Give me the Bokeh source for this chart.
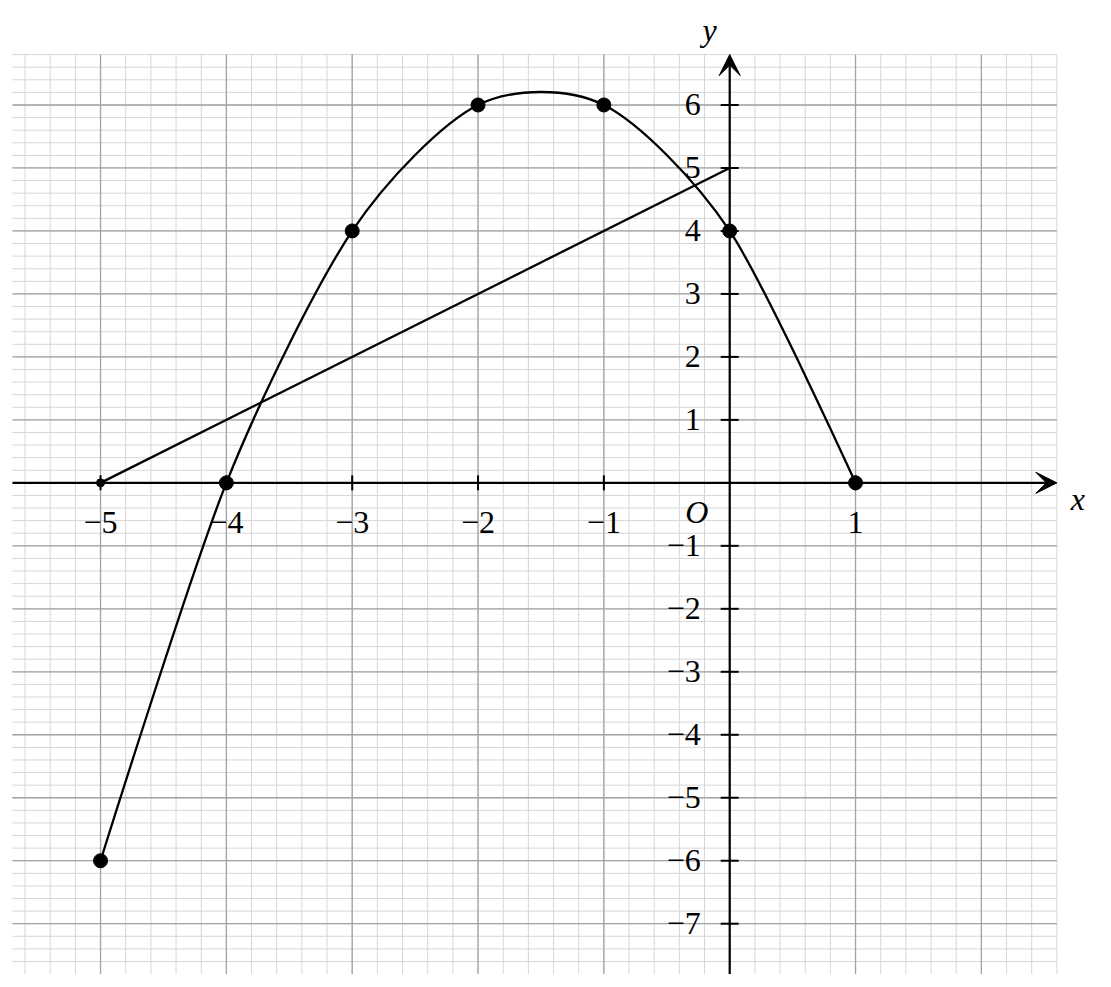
import numpy as np
from bokeh.plotting import figure
from bokeh.models import Range1d, Arrow, VeeHead
from bokeh.core.properties import value
from bokeh.embed import file_html
from bokeh.resources import INLINE

# ---- data ----
curve_x = [-5, -4, -3, -2, -1, 0, 1]
curve_y = [-6, 0, 4, 6, 6, 4, 0]
line_x = [-5, 0]
line_y = [0, 5]
x_ticks = [-5, -4, -3, -2, -1, 1]
x_tick_labels = ["−5", "−4", "−3", "−2", "−1", "1"]
y_ticks = [-7, -6, -5, -4, -3, -2, -1, 1, 2, 3, 4, 5, 6]
y_tick_labels = ["−7", "−6", "−5", "−4", "−3", "−2", "−1", "1", "2", "3", "4", "5", "6"]
grid_x = (-5.7, 2.6)
grid_y = (-7.8, 6.8)

FONT = value("Liberation Serif")
FS = "32px"
W, H = 1095, 979

p = figure(width=W, height=H, x_range=Range1d(-5.795, 2.907), y_range=Range1d(-7.886, 7.659),
           output_backend="svg", toolbar_location=None, min_border=0,
           x_axis_type=None, y_axis_type=None)
p.grid.visible = False
p.outline_line_color = None

# ---- grid ----
minor_vx = [round(v, 1) for v in np.arange(-5.6, grid_x[1] + 0.01, 0.2)]
minor_hy = [round(v, 1) for v in np.arange(-7.6, grid_y[1] + 0.01, 0.2)]
major_vx = list(range(-5, 3))
major_hy = list(range(-7, 7))
p.segment(x0=minor_vx, y0=grid_y[0], x1=minor_vx, y1=grid_y[1], line_color="#d6d6d6", line_width=1)
p.segment(x0=grid_x[0], y0=minor_hy, x1=grid_x[1], y1=minor_hy, line_color="#d6d6d6", line_width=1)
p.segment(x0=major_vx, y0=grid_y[0], x1=major_vx, y1=grid_y[1], line_color="#a3a3a3", line_width=1.3)
p.segment(x0=grid_x[0], y0=major_hy, x1=grid_x[1], y1=major_hy, line_color="#a3a3a3", line_width=1.3)

# ---- axes ----
p.add_layout(Arrow(end=VeeHead(size=21, fill_color="black", line_color="black", line_width=1),
                   x_start=grid_x[0], y_start=0, x_end=grid_x[1], y_end=0,
                   line_width=2.2, line_color="black"))
p.add_layout(Arrow(end=VeeHead(size=21, fill_color="black", line_color="black", line_width=1),
                   x_start=0, y_start=grid_y[0], x_end=0, y_end=grid_y[1],
                   line_width=2.2, line_color="black"))

p.scatter(x=x_ticks, y=[0] * len(x_ticks), marker="dash", size=15, angle=np.pi / 2,
          line_color="black", line_width=2)
p.scatter(x=[0] * len(y_ticks), y=y_ticks, marker="dash", size=18,
          line_color="black", line_width=2)

p.text(x=x_ticks, y=[0] * len(x_ticks), text=x_tick_labels, text_align="center",
       text_baseline="middle", y_offset=40, text_font=FONT, text_font_size=FS,
       text_color="black")
p.text(x=[0] * len(y_ticks), y=y_ticks, text=y_tick_labels, text_align="right",
       text_baseline="middle", x_offset=-29, text_font=FONT, text_font_size=FS,
       text_color="black")

# ---- straight line ----
p.line(line_x, line_y, line_color="black", line_width=2.3)

# ---- smooth curve through the points (TikZ-like smooth bezier) ----
k = 0.1375
pts = np.array(list(zip(curve_x, curve_y)), dtype=float)
n = len(pts)
bx0, by0, bx1, by1, cx0, cy0, cx1, cy1 = [], [], [], [], [], [], [], []
for i in range(n - 1):
    P0, P1 = pts[i], pts[i + 1]
    C0 = P0 if i == 0 else P0 + k * (pts[i + 1] - pts[i - 1])
    C1 = P1 if i + 1 == n - 1 else P1 - k * (pts[i + 2] - pts[i])
    bx0.append(P0[0]); by0.append(P0[1]); bx1.append(P1[0]); by1.append(P1[1])
    cx0.append(C0[0]); cy0.append(C0[1]); cx1.append(C1[0]); cy1.append(C1[1])
p.bezier(x0=bx0, y0=by0, x1=bx1, y1=by1, cx0=cx0, cy0=cy0, cx1=cx1, cy1=cy1,
         line_color="black", line_width=2.3)

# ---- points ----
p.scatter(curve_x, curve_y, size=14, fill_color="black", line_color="black")
p.scatter([line_x[0]], [line_y[0]], size=8, fill_color="black", line_color="black")

# ---- axis labels ----
p.text(x=[0], y=[0], text=["O"], text_align="center", text_baseline="middle",
       x_offset=-33, y_offset=29, text_font=FONT, text_font_size=FS,
       text_font_style="italic", text_color="black")
p.text(x=[grid_x[1]], y=[0], text=["x"], text_align="center", text_baseline="middle",
       x_offset=21, y_offset=16, text_font=FONT, text_font_size=FS,
       text_font_style="italic", text_color="black")
p.text(x=[0], y=[grid_y[1]], text=["y"], text_align="center", text_baseline="middle",
       x_offset=-20, y_offset=-25, text_font=FONT, text_font_size=FS,
       text_font_style="italic", text_color="black")

open("out.html", "w").write(file_html(p, INLINE))
